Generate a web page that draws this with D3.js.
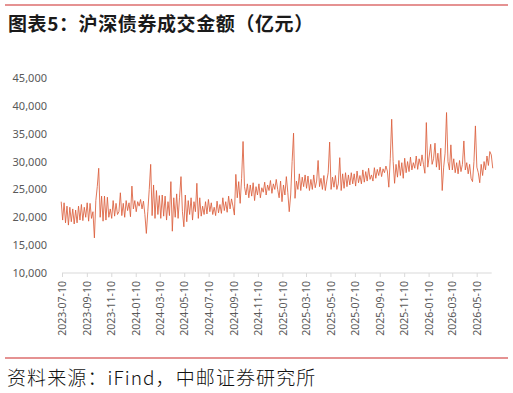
<!DOCTYPE html>
<html>
<head>
<meta charset="utf-8">
<script src="https://cdn.jsdelivr.net/npm/d3@7"></script>
<style>
    body { margin: 0; background: #ffffff; }
    svg { display: block; }
</style>
</head>
<body>
<div id="chart"></div>
<script>
// Chart data
const titleText = '图表5：沪深债券成交金额（亿元）';
const sourceText = '资料来源：iFind，中邮证券研究所';

const firstDate = '2023-07-08';
const lastDate = '2026-06-19';

const yTicks = [10000, 15000, 20000, 25000, 30000, 35000, 40000, 45000];

const xTickLabels = [
    '2023-07-10', '2023-09-10', '2023-11-10', '2024-01-10', '2024-03-10',
    '2024-05-10', '2024-07-10', '2024-09-10', '2024-11-10', '2025-01-10',
    '2025-03-10', '2025-05-10', '2025-07-10', '2025-09-10', '2025-11-10',
    '2026-01-10', '2026-03-10', '2026-05-10'
];

// bond turnover, 100 million yuan, evenly spread from firstDate to lastDate
const turnover = [
    22800, 19500, 22600, 19000, 22000, 18600, 21800, 19200, 21500, 18800,
    21300, 19000, 22000, 19500, 22300, 19400, 21800, 20000, 22600, 19300,
    22500, 19800, 21000, 16300, 23000, 25500, 28800, 20000, 23800, 19300,
    23800, 19500, 23600, 20000, 21500, 19800, 23000, 20200, 22500, 20500,
    21000, 24400, 20300, 22500, 20000, 23000, 21200, 22600, 20100, 25600,
    21500, 23000, 21000, 22800, 22000, 23200, 21500, 22900, 20500, 17100,
    21000, 25000, 29500, 20300, 25800, 19800, 24800, 20500, 23900, 19800,
    24000, 20200, 23800, 19500, 22800, 20300, 26400, 17500, 23500, 20000,
    24200, 19800, 23600, 27300, 21000, 18300, 24000, 19200, 23000, 20500,
    23500, 19500, 22800, 21000, 26100, 19800, 23500, 20200, 22000, 20500,
    22800, 20600, 23200, 21000, 22600, 20500, 21800, 20300, 22900, 20800,
    22300, 20700, 23500, 21200, 22800, 20900, 23800, 21500, 23300, 22000,
    20400, 27700, 23500, 26400, 22500, 27000, 33600, 25500, 24000, 26000,
    23500, 25800, 23800, 26200, 23000, 25500, 24000, 26000, 23500, 25300,
    24500, 26300, 24000, 25800, 24800, 26600, 24300, 26000, 25000, 26800,
    25000, 23500, 26500, 22800, 25800, 24000, 27300, 24500, 21000, 24000,
    30000, 35100, 23400, 26500, 25000, 27800, 24800, 27200, 25500, 27600,
    25200, 27400, 24800, 26800, 25000, 27600, 25300, 26500, 30200, 25500,
    27000, 25000, 27500, 24800, 26500, 28000, 33500, 25000, 27200, 25400,
    27500, 25000, 26000, 30700, 24800, 27800, 25200, 28000, 25500, 27600,
    25800, 28000, 26000, 27800, 25600, 28300, 26200, 27500, 26000, 28500,
    26300, 28200, 26500, 28800, 26800, 27600, 26500, 28900, 27000, 28600,
    27500, 29000, 27300, 28700, 28000, 29200, 28300, 25400, 30500, 37600,
    30000, 26100, 29500, 27200, 30200, 27500, 29800, 27000, 30600, 28000,
    30000, 28200, 30800, 28500, 29800, 28800, 31000, 28600, 30500, 29200,
    31200, 29500, 27900, 37000, 29000, 31000, 33100, 29500, 30500, 33300,
    29000, 31500, 28500, 32400, 24800, 29000, 31500, 38800, 30000, 28500,
    33000, 28500, 30500, 28000, 29800, 27800, 30200, 28200, 29500, 33700,
    28500, 29800, 27800, 29500, 27000, 26400, 30000, 36400, 29000, 28000,
    26200, 29500, 27500, 30000, 28500, 31000, 29300, 31800, 31200, 28800
];

const width = 513;
const height = 393;
const parseDate = d3.timeParse('%Y-%m-%d');

const svg = d3.select('#chart')
    .append('svg')
    .attr('width', width)
    .attr('height', height);

// Header rule + title
svg.append('line')
    .attr('x1', 5).attr('x2', 508)
    .attr('y1', 5).attr('y2', 5)
    .attr('stroke', '#dd6e6e')
    .attr('stroke-width', 1.5);

svg.append('text')
    .attr('x', 8)
    .attr('y', 31)
    .attr('fill', '#1a1a1a')
    .style('font-family', '"Noto Sans CJK SC", sans-serif')
    .style('font-weight', 'bold')
    .style('font-size', '19px')
    .style('letter-spacing', '0.6px')
    .text(titleText);

// Scales
const tickDates = xTickLabels.map(parseDate);
const x = d3.scaleTime()
    .domain([tickDates[0], tickDates[tickDates.length - 1]])
    .range([62, 476.7]);

const y = d3.scaleLinear()
    .domain([10000, 45000])
    .range([273, 78]);

const t0 = parseDate(firstDate).getTime();
const t1 = parseDate(lastDate).getTime();
const points = turnover.map((v, i) => ({
    date: new Date(t0 + (t1 - t0) * i / (turnover.length - 1)),
    value: v
}));

// Y axis (labels only)
const yAxis = svg.append('g')
    .attr('transform', 'translate(50, 0)')
    .call(d3.axisLeft(y).tickValues(yTicks).tickFormat(d3.format(',')).tickSize(0).tickPadding(3));
yAxis.select('.domain').remove();
yAxis.selectAll('text')
    .attr('fill', '#595959')
    .style('font-family', '"Noto Sans", sans-serif')
    .style('font-size', '11px');

// X axis
svg.append('line')
    .attr('x1', 62).attr('x2', 491.7)
    .attr('y1', y(10000)).attr('y2', y(10000))
    .attr('stroke', '#d9d9d9')
    .attr('stroke-width', 1);

const xAxis = svg.append('g')
    .attr('transform', `translate(0, ${y(10000)})`)
    .call(d3.axisBottom(x).tickValues(tickDates).tickFormat(d3.timeFormat('%Y-%m-%d')).tickSize(4).tickSizeOuter(0));
xAxis.select('.domain').remove();
xAxis.selectAll('.tick line').attr('stroke', '#d9d9d9');
xAxis.selectAll('text')
    .attr('fill', '#595959')
    .attr('transform', 'rotate(-90)')
    .attr('text-anchor', 'end')
    .attr('x', -8)
    .attr('y', 0)
    .attr('dy', '0.35em')
    .style('font-family', '"Noto Sans", sans-serif')
    .style('font-size', '10.5px');

// Turnover line
const line = d3.line()
    .x(d => x(d.date))
    .y(d => y(d.value));

svg.append('path')
    .datum(points)
    .attr('d', line)
    .attr('fill', 'none')
    .attr('stroke', '#dc5f3c')
    .attr('stroke-width', 0.85)
    .attr('stroke-linejoin', 'round');

// Source rule + note
svg.append('line')
    .attr('x1', 5).attr('x2', 508)
    .attr('y1', 358).attr('y2', 358)
    .attr('stroke', '#dd6e6e')
    .attr('stroke-width', 1.5);

svg.append('text')
    .attr('x', 7)
    .attr('y', 385)
    .attr('fill', '#111111')
    .style('font-family', '"Noto Sans CJK SC", sans-serif')
    .style('font-size', '19px')
    .style('font-weight', '300')
    .style('letter-spacing', '1.1px')
    .text(sourceText);
</script>
</body>
</html>
